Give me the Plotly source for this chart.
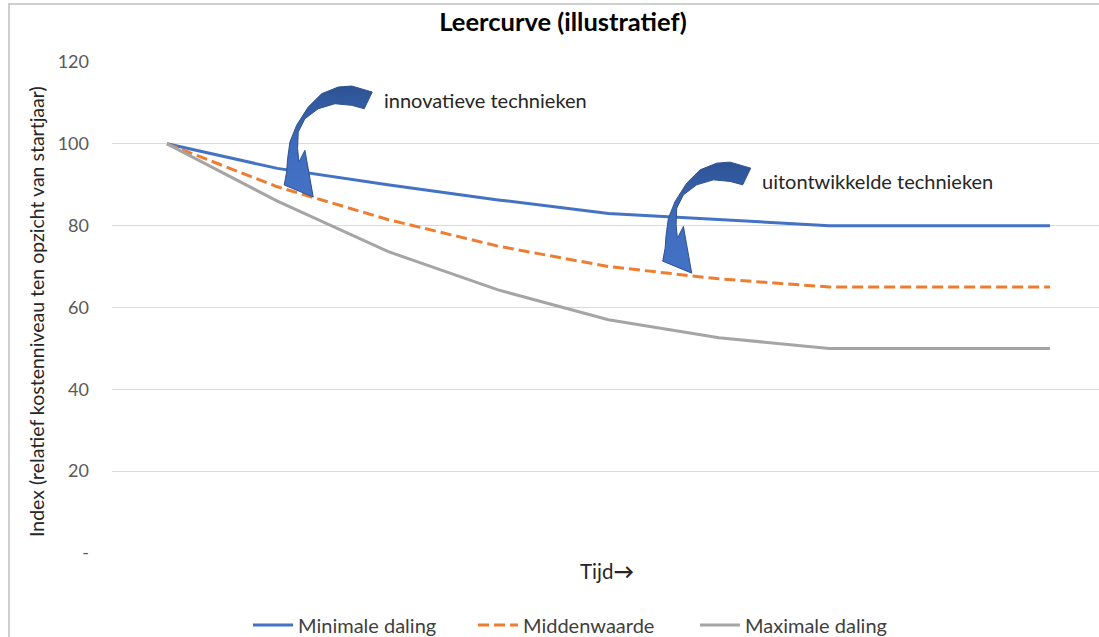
import plotly.graph_objects as go

# ---------------- data ----------------
periods = list(range(9))  # time steps (unlabelled categories)
series_names = ["Minimale daling", "Middenwaarde", "Maximale daling"]
minimale_daling = [100, 94.0, 90.0, 86.3, 83.0, 81.5, 80.0, 80.0, 80.0]
middenwaarde = [100, 89.5, 81.5, 75.0, 70.0, 67.0, 65.0, 65.0, 65.0]
maximale_daling = [100, 86.0, 73.7, 64.3, 57.0, 52.6, 50.0, 50.0, 50.0]

y_tickvals = [0, 20, 40, 60, 80, 100, 120]
y_ticktext = ["-", "20", "40", "60", "80", "100", "120"]

title_text = "Leercurve (illustratief)"
y_title = "Index (relatief kostenniveau ten opzicht van startjaar)"
x_title = "Tijd<b>→</b>"
callouts = ["innovatieve technieken", "uitontwikkelde technieken"]
# arrow tips (data coords: period, index)
arrow_tips = [(1.325, 87.0), (4.754, 68.4)]

# ---------------- layout geometry ----------------
W, H = 1099, 637
ML, MR, MT, MB = 112, 0, 62, 84
PW, PH = W - ML - MR, H - MT - MB
X_RANGE = [-0.498, 8.444]
Y_RANGE = [0, 120]
px_per_x = PW / (X_RANGE[1] - X_RANGE[0])
px_per_y = PH / (Y_RANGE[1] - Y_RANGE[0])

def px2paper(px, py):
    return (px - ML) / PW, (H - MB - py) / PH

FONT = "Lato, 'Open Sans', sans-serif"
colors = ["#4472C4", "#ED7D31", "#A5A5A5"]
legend_ids = ["legend", "legend2", "legend3"]
legend_left_px = [248, 473, 695]

fig = go.Figure()
for name, vals, col, dash, lid in zip(series_names,
                                      [minimale_daling, middenwaarde, maximale_daling],
                                      colors, ["solid", "11px,5px", "solid"], legend_ids):
    fig.add_trace(go.Scatter(x=periods, y=vals, mode="lines", name=name, legend=lid,
                             line=dict(color=col, width=3, dash=dash)))

# curved callout arrows (shape outline in pixel offsets relative to tip)
arrow_outline = [
    (59, -105), (38.4, -111), (25, -110), (8.4, -103.3), (-5, -90),
    (-16.6, -71.7), (-23.3, -55), (-25.6, -38.3), (-26.6, -25),
    (-29, -12), (0, 0), (-8.3, -46.7), (-14.3, -35), (-15.6, -48.3),
    (-15, -65), (-8.3, -78.3), (5, -88.3), (21.7, -93.3), (38.4, -91.7),
    (51, -88.3), (59, -105),
]
for tx, ty in arrow_tips:
    xs = [tx + dx / px_per_x for dx, dy in arrow_outline]
    ys = [ty - dy / px_per_y for dx, dy in arrow_outline]
    fig.add_trace(go.Scatter(
        x=xs, y=ys, mode="lines", fill="toself", showlegend=False,
        hoverinfo="skip", line=dict(color="#2F528F", width=1),
        fillgradient=dict(type="vertical",
                          colorscale=[[0, "#4472C4"], [0.45, "#3F6CBE"], [1, "#2D5394"]]),
    ))

# callout texts
for (tx, ty), txt, (ox, oy) in zip(arrow_tips, callouts, [(69, -97), (68, -92)]):
    fig.add_annotation(x=tx + ox / px_per_x, y=ty - oy / px_per_y, text=txt,
                       showarrow=False, xanchor="left", yanchor="middle",
                       font=dict(family=FONT, size=20, color="#262626"))

# axis titles
ax, ay = px2paper(36, 312)
fig.add_annotation(x=ax, y=ay, xref="paper", yref="paper", text=y_title,
                   textangle=-90, showarrow=False, xanchor="center", yanchor="middle",
                   font=dict(family=FONT, size=19.5, color="#262626"))
tx_, ty_ = px2paper(607, 571)
fig.add_annotation(x=tx_, y=ty_, xref="paper", yref="paper", text=x_title,
                   showarrow=False, xanchor="center", yanchor="middle",
                   font=dict(family=FONT, size=20.5, color="#262626"))

# outer chart border
bx0, by1 = px2paper(9, 4)
fig.add_shape(type="rect", xref="paper", yref="paper", x0=bx0, y0=-0.5, x1=1.2, y1=by1,
              line=dict(color="#BFBFBF", width=1.5), layer="below")

legend_cfg = {}
for lid, lpx in zip(legend_ids, legend_left_px):
    lx, ly = px2paper(lpx, 625)
    legend_cfg[lid] = dict(orientation="h", x=lx, y=ly, xanchor="left", yanchor="middle",
                           font=dict(family=FONT, size=20, color="#404040"),
                           bgcolor="rgba(0,0,0,0)", itemwidth=40)

fig.update_layout(
    width=W, height=H,
    margin=dict(l=ML, r=MR, t=MT, b=MB, autoexpand=False),
    paper_bgcolor="white", plot_bgcolor="white",
    title=dict(text="<b>" + title_text + "</b>", xref="container", yref="container",
               x=563 / W, xanchor="center", y=1 - 22 / H, yanchor="middle",
               font=dict(family=FONT, size=25.5, color="#000000")),
    xaxis=dict(range=X_RANGE, showgrid=False, zeroline=False, showline=False,
               showticklabels=False, ticks=""),
    yaxis=dict(range=Y_RANGE, tickvals=y_tickvals, ticktext=y_ticktext,
               showgrid=True, gridcolor="#D9D9D9", gridwidth=1, zeroline=False,
               showline=False, ticks="", ticklabelstandoff=22,
               tickfont=dict(family=FONT, size=18, color="#595959")),
    showlegend=True,
    hovermode=False,
    **legend_cfg,
)

fig.write_html(
    "out.html",
    config={"displayModeBar": False},
    post_script="document.body.style.margin='0';document.body.style.overflow='hidden';",
)
